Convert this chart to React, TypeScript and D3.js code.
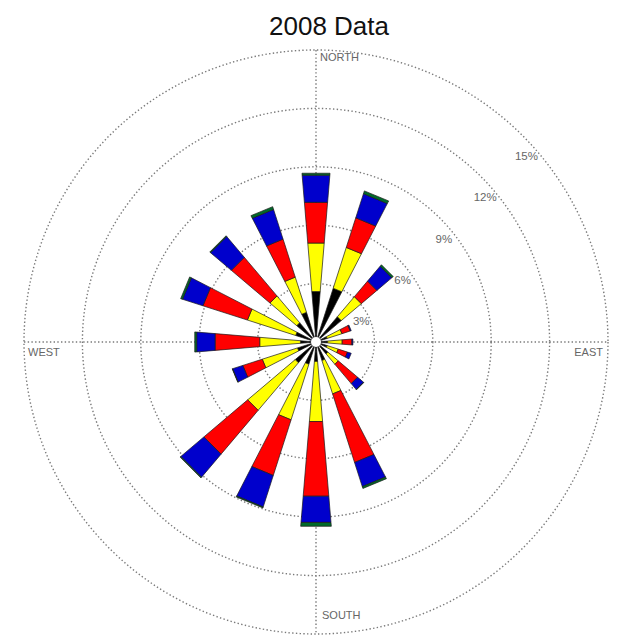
import React from "react";
import * as d3 from "d3";

const directions = ["N", "NNE", "NE", "ENE", "E", "ESE", "SE", "SSE", "S", "SSW", "SW", "WSW", "W", "WNW", "NW", "NNW"];
const binBlack = [2.6, 2.9, 1.7, 0.6, 0.6, 0.6, 0.8, 1.0, 1.0, 1.2, 1.4, 1.0, 0.8, 1.1, 1.3, 1.6];
const binYellow = [2.5, 2.2, 1.35, 0.8, 0.75, 0.6, 0.7, 1.8, 3.1, 3.0, 3.2, 1.9, 2.1, 2.6, 1.8, 1.9];
const binRed = [2.1, 1.6, 1.05, 0.45, 0.5, 0.5, 1.3, 3.7, 3.85, 3.0, 2.95, 1.05, 2.3, 2.4, 2.6, 2.05];
const binBlue = [1.4, 1.3, 1.0, 0.05, 0.05, 0.2, 0.4, 1.3, 1.35, 1.7, 1.55, 0.55, 0.95, 1.1, 1.4, 1.6];
const binGreen = [0.1, 0.15, 0.1, 0, 0, 0, 0.02, 0.1, 0.2, 0.05, 0.05, 0.02, 0.1, 0.1, 0.05, 0.15];
const binKeys = ["black", "yellow", "red", "blue", "green"];
const binColors = ["#000000", "#ffff00", "#ff0000", "#0000cc", "#006a2a"];
const ringTicks = [3, 6, 9, 12, 15];
const compassLabels = ["NORTH", "EAST", "SOUTH", "WEST"];
const title = "2008 Data";

export default function App() {
  const W = 618, H = 639;
  const cx = 316, cy = 342;
  const rScale = d3.scaleLinear().domain([0, 15]).range([0, 292]);
  const table = directions.map((d, i) => ({
    dir: d,
    black: binBlack[i],
    yellow: binYellow[i],
    red: binRed[i],
    blue: binBlue[i],
    green: binGreen[i],
  }));
  const stack = d3.stack<any>().keys(binKeys)(table);
  const angle = d3.scaleBand<string>().domain(directions).range([0, 2 * Math.PI]);
  const half = (4.75 * Math.PI) / 180;
  const pt = (a: number, r: number) => [cx + r * Math.sin(a), cy - r * Math.cos(a)];
  const seg = (a: number, r0: number, r1: number) => {
    const p = [pt(a - half, r0), pt(a - half, r1), pt(a + half, r1), pt(a + half, r0)];
    return d3.line()(p as any) + "Z";
  };
  const grid = "#7a7a7a";
  const dash = "1.4,2.3";
  const R = rScale(15);
  return (
    <div style={{ position: "fixed", left: 0, top: 0, width: W, height: H, background: "#fff" }}>
      <svg width={W} height={H} style={{ display: "block", fontFamily: "Arial, 'Liberation Sans', sans-serif" }}>
        <rect width={W} height={H} fill="#fff" />
        <text x={329} y={35} textAnchor="middle" fontSize={26} fill="#111">{title}</text>
        {ringTicks.map((t) => (
          <circle key={t} cx={cx} cy={cy} r={rScale(t)} fill="none" stroke={grid} strokeWidth={1.4} strokeDasharray={dash} />
        ))}
        <line x1={cx - R} x2={cx + R} y1={cy} y2={cy} stroke={grid} strokeWidth={1.4} strokeDasharray={dash} />
        <line x1={cx} x2={cx} y1={cy - R} y2={cy + R} stroke={grid} strokeWidth={1.4} strokeDasharray={dash} />
        {stack.map((layer, li) =>
          layer.map((d, i) => {
            const a = (angle(directions[i]) as number);
            const r0 = rScale(d[0]);
            const r1 = rScale(d[1]);
            if (r1 - r0 <= 0) return null;
            return (
              <path key={li + "-" + i} d={seg(a, r0, r1)} fill={binColors[li]} stroke="#1a1a1a" strokeWidth={0.7} strokeLinejoin="round" />
            );
          })
        )}
        <circle cx={cx} cy={cy} r={5} fill="#fff" />
        {ringTicks.map((t) => {
          const r = rScale(t);
          return (
            <text key={"l" + t} x={cx + r * Math.SQRT1_2 + 4} y={cy - r * Math.SQRT1_2 + 20.5} textAnchor="middle" dominantBaseline="central" fontSize={11.5} fill="#666">
              {t + "%"}
            </text>
          );
        })}
        <text x={cx + 4} y={61} fontSize={11} fill="#666">{compassLabels[0]}</text>
        <text x={603} y={356} fontSize={11} fill="#666" textAnchor="end">{compassLabels[1]}</text>
        <text x={cx + 6} y={619} fontSize={11} fill="#666">{compassLabels[2]}</text>
        <text x={28} y={356} fontSize={11} fill="#666">{compassLabels[3]}</text>
      </svg>
    </div>
  );
}
